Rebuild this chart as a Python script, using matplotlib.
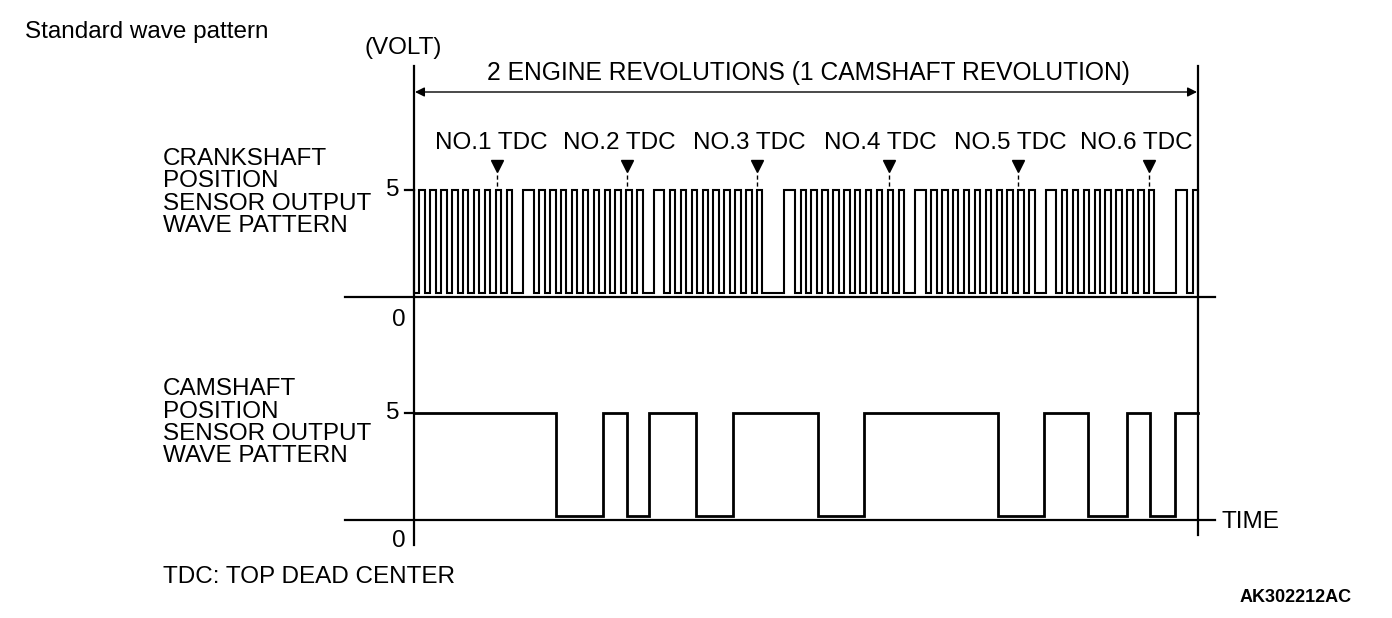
import numpy as np
import matplotlib
matplotlib.use("Agg")
import matplotlib.pyplot as plt

plt.rcParams['font.family'] = ['Liberation Sans', 'DejaVu Sans']

# crank signal, one camshaft half-turn (360 deg crank), high/low durations in deg,
# starting with a tooth at -5 deg
crank_rev = [5, 5] * 9 + [5, 10, 10, 5] + [5, 5] * 9 + [5, 10, 10, 5] + [5, 5] * 8 + [5, 20, 10, 5]
crank_start = -5

# camshaft signal: edge positions (deg crank), starts high
cam_edges = [130, 174, 196, 216, 259, 293, 371, 413, 536, 579, 619, 655, 676, 699]

tdc_deg = [76, 196, 315, 436, 555, 675]
tdc_labels = ["NO.1 TDC", "NO.2 TDC", "NO.3 TDC", "NO.4 TDC", "NO.5 TDC", "NO.6 TDC"]
tdc_label_px = [491, 619, 749, 880, 1010, 1136]

W, H = 1392, 618
fig = plt.figure(figsize=(W / 100, H / 100), dpi=100)

# background axes in pixel units
bg = fig.add_axes([0, 0, 1, 1])
bg.set_xlim(0, W)
bg.set_ylim(H, 0)
bg.axis('off')

x0, x1 = 414, 1198          # pixel positions of 0 and 720 deg
k = (x1 - x0) / 720.0
xl = (-x0 / k, (W - x0) / k)


def wave_axes(top, bottom, p5, p0):
    ax = fig.add_axes([0, 1 - bottom / H, 1, (bottom - top) / H])
    s = (p0 - p5) / 5.0
    ax.set_xlim(*xl)
    ax.set_ylim((p0 - bottom) / s, (p0 - top) / s)
    ax.axis('off')
    return ax


fs = 17.5
lw_axis = 1.6

# crank wave
axc = wave_axes(120, 305, 190, 293)
durs = np.array(crank_rev * 2 + [5, 5])
t = crank_start + np.concatenate([[0], np.cumsum(durs)])
lev = np.array([5 if i % 2 == 0 else 0 for i in range(len(durs))] + [0])
tc = np.clip(t, 0, 720)
axc.plot(tc, lev, drawstyle='steps-post', color='black', lw=1.5, solid_joinstyle='miter')

for d in tdc_deg:
    axc.plot([d], [6.15], marker='v', color='black', ms=8, mec='black')
    axc.plot([d, d], [5.75, 5.15], color='black', lw=1.0, ls=(0, (3, 2)))
for px, lab in zip(tdc_label_px, tdc_labels):
    bg.text(px, 143, lab, ha='center', va='center', fontsize=fs)

# cam wave
axm = wave_axes(400, 530, 413, 515.5)
ct = np.concatenate([[0], cam_edges, [720]])
cl = np.array([5 if i % 2 == 0 else 0 for i in range(len(cam_edges) + 1)] + [5])
axm.plot(ct, cl, drawstyle='steps-post', color='black', lw=2.0, solid_joinstyle='miter')

# axes lines
bg.plot([x0, x0], [66, 545], color='black', lw=lw_axis)
bg.plot([x1, x1], [66, 535], color='black', lw=lw_axis)
bg.plot([345, 1215], [297, 297], color='black', lw=lw_axis)
bg.plot([345, 1215], [520, 520], color='black', lw=lw_axis)
bg.plot([405, x0], [190, 190], color='black', lw=lw_axis)
bg.plot([405, x0], [413, 413], color='black', lw=lw_axis)
bg.annotate('', xy=(x0 + 1, 92), xytext=(x1 - 1, 92),
            arrowprops=dict(arrowstyle='<|-|>', color='black', lw=1.0,
                            mutation_scale=14, shrinkA=0, shrinkB=0))

# texts
bg.text(25, 32, "Standard wave pattern", fontsize=fs, va='center', ha='left')
bg.text(403, 48, "(VOLT)", fontsize=fs, va='center', ha='center')
bg.text(808, 73, "2 ENGINE REVOLUTIONS (1 CAMSHAFT REVOLUTION)", fontsize=17.7, va='center', ha='center')
for i, line in enumerate(["CRANKSHAFT", "POSITION", "SENSOR OUTPUT", "WAVE PATTERN"]):
    bg.text(163, 159 + 22.3 * i, line, fontsize=fs, va='center', ha='left')
for i, line in enumerate(["CAMSHAFT", "POSITION", "SENSOR OUTPUT", "WAVE PATTERN"]):
    bg.text(163, 389 + 22.5 * i, line, fontsize=fs, va='center', ha='left')
bg.text(393, 190, "5", fontsize=fs, va='center', ha='center')
bg.text(393, 413, "5", fontsize=fs, va='center', ha='center')
bg.text(399, 320, "0", fontsize=fs, va='center', ha='center')
bg.text(399, 541, "0", fontsize=fs, va='center', ha='center')
bg.text(1222, 522, "TIME", fontsize=fs, va='center', ha='left')
bg.text(163, 577, "TDC: TOP DEAD CENTER", fontsize=fs, va='center', ha='left')
bg.text(1352, 597, "AK302212AC", fontsize=13, fontweight='bold', va='center', ha='right')

fig.savefig('out.png', dpi=100)
